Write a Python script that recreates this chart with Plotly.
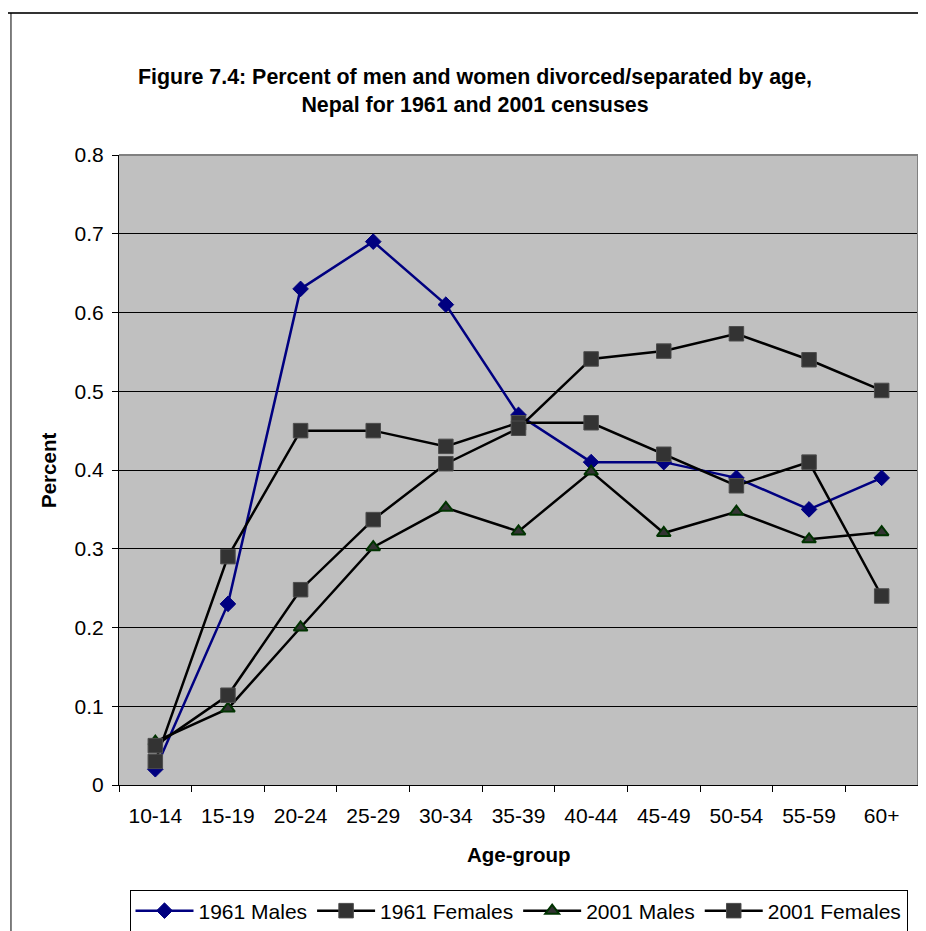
import plotly.graph_objects as go

age_groups = ["10-14", "15-19", "20-24", "25-29", "30-34", "35-39",
              "40-44", "45-49", "50-54", "55-59", "60+"]
males_1961 = [0.02, 0.23, 0.63, 0.69, 0.61, 0.47, 0.41, 0.41, 0.39, 0.35, 0.39]
females_1961 = [0.03, 0.29, 0.45, 0.45, 0.43, 0.46, 0.46, 0.42, 0.38, 0.41, 0.24]
males_2001 = [0.055, 0.097, 0.20, 0.302, 0.352, 0.322, 0.398, 0.32, 0.347, 0.312, 0.321]
females_2001 = [0.05, 0.114, 0.248, 0.337, 0.408, 0.453, 0.541, 0.551, 0.573, 0.540, 0.501]
y_ticks = [0, 0.1, 0.2, 0.3, 0.4, 0.5, 0.6, 0.7, 0.8]

FONT = "Liberation Sans, Arial, sans-serif"

fig = go.Figure()
fig.add_trace(go.Scatter(
    x=age_groups, y=males_1961, name="1961 Males", mode="lines+markers",
    line=dict(color="#000080", width=2.5),
    marker=dict(symbol="diamond", size=12, color="#000080",
                line=dict(color="#000080", width=1))))
fig.add_trace(go.Scatter(
    x=age_groups, y=females_1961, name="1961 Females", mode="lines+markers",
    line=dict(color="#000000", width=2.5),
    marker=dict(symbol="square", size=14.5, color="#333333",
                line=dict(color="#4d4d4d", width=1))))
fig.add_trace(go.Scatter(
    x=age_groups, y=males_2001, name="2001 Males", mode="lines+markers",
    line=dict(color="#000000", width=2.5),
    marker=dict(symbol="triangle-up", size=12, color="#333333",
                line=dict(color="#003300", width=2))))
fig.add_trace(go.Scatter(
    x=age_groups, y=females_2001, name="2001 Females", mode="lines+markers",
    line=dict(color="#000000", width=2.5),
    marker=dict(symbol="square", size=14.5, color="#333333",
                line=dict(color="#4d4d4d", width=1))))

# The page body has an 8px margin, so the figure is sized 8px smaller.
W, H = 918, 923
fig.update_layout(
    width=W, height=H,
    margin=dict(l=111, r=8, t=147, b=146),
    paper_bgcolor="white", plot_bgcolor="#C0C0C0",
    font=dict(family=FONT, size=21, color="black"),
    showlegend=True,
    legend=dict(orientation="h", xref="paper", x=0.5, xanchor="center",
                yref="container", y=1 - 903 / H, yanchor="middle",
                bordercolor="black", borderwidth=1, bgcolor="white",
                font=dict(size=21), itemwidth=58),
    xaxis=dict(type="category", range=[-0.5, 10.5], showgrid=False,
               showline=True, linecolor="black", linewidth=1,
               ticks="outside", tickson="boundaries", ticklen=6, tickcolor="black",
               tickfont=dict(size=21), ticklabelstandoff=12, zeroline=False),
    yaxis=dict(range=[0, 0.8], tickvals=y_ticks, ticktext=[f"{v:g}" for v in y_ticks],
               showgrid=True, gridcolor="black", gridwidth=1,
               showline=True, linecolor="black", linewidth=1,
               ticks="outside", ticklen=6, tickcolor="black",
               tickfont=dict(size=21), ticklabelstandoff=4, zeroline=False),
    annotations=[
        dict(text="<b>Figure 7.4: Percent of men and women divorced/separated by age,<br>Nepal for 1961 and 2001 censuses</b>",
             xref="paper", yref="paper", x=0.4456, y=1.1008, xanchor="center", yanchor="middle",
             showarrow=False, font=dict(size=21.4)),
        dict(text="<b>Percent</b>", xref="paper", yref="paper", x=-0.0889, y=0.5,
             textangle=-90, showarrow=False, xanchor="center", yanchor="middle",
             font=dict(size=20.5)),
        dict(text="<b>Age-group</b>", xref="paper", yref="paper", x=0.5, y=-0.111,
             showarrow=False, xanchor="center", yanchor="middle", font=dict(size=20.5)),
    ],
    shapes=[
        dict(type="line", xref="paper", yref="paper", x0=0, x1=1, y0=1, y1=1,
             line=dict(color="#808080", width=2)),
        dict(type="line", xref="paper", yref="paper", x0=1, x1=1, y0=0, y1=1,
             line=dict(color="#808080", width=2)),
        dict(type="line", xref="paper", yref="paper", x0=-0.1427, x1=1.02, y0=1.2254, y1=1.2254,
             line=dict(color="#333333", width=2)),
        dict(type="line", xref="paper", yref="paper", x0=-0.1352, x1=-0.1352, y0=1.2254, y1=-0.26,
             line=dict(color="black", width=1)),
    ],
)

fig.write_html("out.html")
